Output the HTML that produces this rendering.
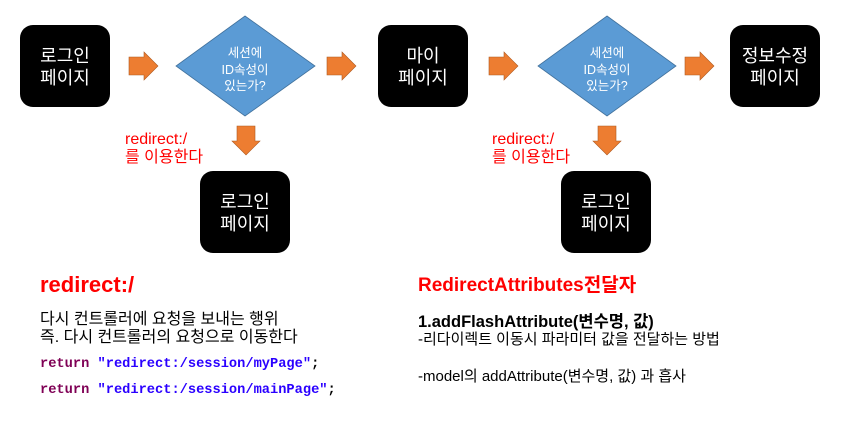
<!DOCTYPE html>
<html><head><meta charset="utf-8"><style>
body{margin:0;width:856px;height:429px;background:#fff;overflow:hidden;position:relative;font-family:"Liberation Sans","Noto Sans CJK KR",sans-serif}
.t{position:absolute;white-space:nowrap;line-height:1}
.code{font-family:"Liberation Mono","Noto Sans CJK KR",monospace;font-weight:bold;font-size:13.7px}
</style></head><body>
<svg width="856" height="429" style="position:absolute;left:0;top:0" font-family="Liberation Sans, Noto Sans CJK KR, sans-serif">
<g fill="#000">
<rect x="20" y="25" width="90" height="82" rx="13"/>
<rect x="378" y="25" width="90" height="82" rx="13"/>
<rect x="730" y="25" width="90" height="82" rx="13"/>
<rect x="200" y="171" width="90" height="82" rx="13"/>
<rect x="561" y="171" width="90" height="82" rx="13"/>
</g>
<g fill="#5b9bd5" stroke="#41719c" stroke-width="0.8">
<polygon points="245,16 315,66 245,116 176,66"/>
<polygon points="607,16 676,66 607,116 538,66"/>
</g>
<g fill="#ed7d31" stroke="#ae5a21" stroke-width="0.6">
<polygon points="129,57 144,57 144,52 158,66 144,80 144,75 129,75"/>
<polygon points="327,57 342,57 342,52 356,66 342,80 342,75 327,75"/>
<polygon points="489,57 504,57 504,52 518,66 504,80 504,75 489,75"/>
<polygon points="685,57 700,57 700,52 714,66 700,80 700,75 685,75"/>
<polygon points="237,126 255,126 255,141 260,141 246,155 232,141 237,141"/>
<polygon points="598,126 616,126 616,141 621,141 607,155 593,141 598,141"/>
</g>
<g fill="#fff" font-size="18" text-anchor="middle">
<text x="65" y="62">로그인</text><text x="65" y="84">페이지</text>
<text x="423" y="62">마이</text><text x="423" y="84">페이지</text>
<text x="775" y="62">정보수정</text><text x="775" y="84">페이지</text>
<text x="245" y="208">로그인</text><text x="245" y="230">페이지</text>
<text x="606" y="208">로그인</text><text x="606" y="230">페이지</text>
</g>
<g fill="#fff" font-size="12.5" text-anchor="middle">
<text x="245" y="57">세션에</text><text x="245" y="74">ID속성이</text><text x="245" y="90">있는가?</text>
<text x="607" y="57">세션에</text><text x="607" y="74">ID속성이</text><text x="607" y="90">있는가?</text>
</g>
<g fill="#ff0000" font-size="16">
<text x="125" y="144">redirect:/</text><text x="125" y="162">를 이용한다</text>
<text x="492" y="144">redirect:/</text><text x="492" y="162">를 이용한다</text>
</g>
</svg>
<div class="t" style="left:40px;top:274px;color:#f00;font-weight:bold;font-size:22px">redirect:/</div>
<div class="t" style="left:40px;top:311px;font-size:16px;line-height:18px">다시 컨트롤러에 요청을 보내는 행위<br>즉. 다시 컨트롤러의 요청으로 이동한다</div>
<div class="t code" style="left:40px;top:358px"><span style="color:#7f0055">return</span> <span style="color:#2a00ff">"redirect:/session/myPage"</span>;</div>
<div class="t code" style="left:40px;top:384px"><span style="color:#7f0055">return</span> <span style="color:#2a00ff">"redirect:/session/mainPage"</span>;</div>
<div class="t" style="left:418px;top:276px;color:#f00;font-weight:bold;font-size:19px">RedirectAttributes전달자</div>
<div class="t" style="left:418px;top:314px;font-weight:bold;font-size:16.5px">1.addFlashAttribute(변수명, 값)</div>
<div class="t" style="left:418px;top:332px;font-size:15px">-리다이렉트 이동시 파라미터 값을 전달하는 방법</div>
<div class="t" style="left:418px;top:369px;font-size:15px">-model의 addAttribute(변수명, 값) 과 흡사</div>
</body></html>
